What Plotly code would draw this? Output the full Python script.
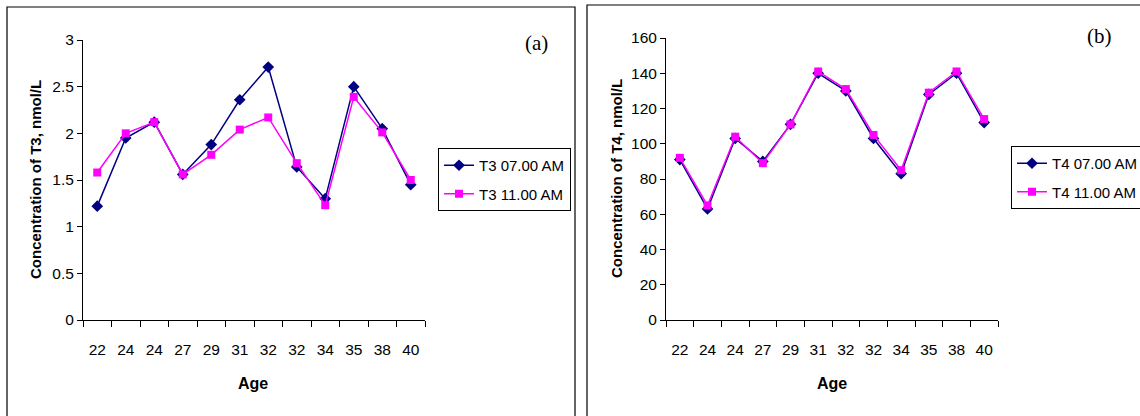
import plotly.graph_objects as go

ages = ["22", "24", "24", "27", "29", "31", "32", "32", "34", "35", "38", "40"]
t3_07 = [1.22, 1.95, 2.12, 1.56, 1.88, 2.36, 2.71, 1.64, 1.30, 2.50, 2.05, 1.45]
t3_11 = [1.58, 2.00, 2.12, 1.56, 1.77, 2.04, 2.17, 1.68, 1.23, 2.39, 2.01, 1.50]
t4_07 = [91, 63, 103, 90, 111, 140, 130, 103, 83, 128, 140, 112]
t4_11 = [92, 65, 104, 89, 111, 141, 131, 105, 85, 129, 141, 114]
y3_ticks = [0, 0.5, 1, 1.5, 2, 2.5, 3]
y3_labels = ["0", "0.5", "1", "1.5", "2", "2.5", "3"]
y4_ticks = [0, 20, 40, 60, 80, 100, 120, 140, 160]

W, H = 1140, 416
pos = list(range(len(ages)))
NAVY = "#000080"
MAG = "#FF00FF"
SANS = "Liberation Sans, Arial"
SERIF = "Liberation Serif, Times New Roman"

fig = go.Figure()

def add_pair(xa, ya, legend, v07, v11, name07, name11):
    fig.add_trace(go.Scatter(x=pos, y=v07, name=name07, xaxis=xa, yaxis=ya, legend=legend,
                             legendgroup=name07, mode="lines+markers",
                             line=dict(color=NAVY, width=1.5),
                             marker=dict(symbol="diamond", size=9, color=NAVY)))
    fig.add_trace(go.Scatter(x=pos, y=v11, name=name11, xaxis=xa, yaxis=ya, legend=legend,
                             legendgroup=name11, mode="lines+markers",
                             line=dict(color=MAG, width=1.5),
                             marker=dict(symbol="square", size=8, color=MAG)))

add_pair("x", "y", "legend", t3_07, t3_11, "T3 07.00 AM", "T3 11.00 AM")
add_pair("x2", "y2", "legend2", t4_07, t4_11, "T4 07.00 AM", "T4 11.00 AM")

def xaxis(domain, anchor):
    return dict(domain=domain, anchor=anchor, range=[-0.5, len(ages) - 0.5],
                tickmode="array", tickvals=pos, ticktext=ages, ticks="",
                ticklabelstandoff=15, automargin=False,
                minor=dict(tick0=-0.5, dtick=1, ticks="outside", ticklen=6,
                           tickcolor="black", tickwidth=1, showgrid=False),
                showline=True, linecolor="black", linewidth=1, showgrid=False,
                zeroline=False, tickfont=dict(family=SANS, size=15.5, color="black"),
                fixedrange=True)

def yaxis(domain, anchor, rng, tv, tt):
    return dict(domain=domain, anchor=anchor, range=rng, tickmode="array",
                tickvals=tv, ticktext=tt, ticks="outside", ticklen=5, automargin=False,
                tickcolor="black", showline=True, linecolor="black", linewidth=1,
                showgrid=False, zeroline=False, fixedrange=True,
                tickfont=dict(family=SANS, size=15.5, color="black"))

fig.update_layout(
    width=W, height=H, margin=dict(l=0, r=0, t=0, b=0, autoexpand=False),
    paper_bgcolor="white", plot_bgcolor="white",
    xaxis=xaxis([83 / W, 425 / W], "y"),
    yaxis=yaxis([1 - 320 / H, 1 - 40 / H], "x", [0, 3], y3_ticks, y3_labels),
    xaxis2=xaxis([666 / W, 998 / W], "y2"),
    yaxis2=yaxis([1 - 320 / H, 1 - 38 / H], "x2", [0, 160], y4_ticks, [str(v) for v in y4_ticks]),
    legend=dict(x=438 / W, y=1 - 148 / H, xanchor="left", yanchor="top",
                bordercolor="black", borderwidth=1, bgcolor="white",
                font=dict(family=SANS, size=15, color="black"),
                tracegroupgap=6, traceorder="grouped"),
    legend2=dict(x=1011 / W, y=1 - 146 / H, xanchor="left", yanchor="top",
                 bordercolor="black", borderwidth=1, bgcolor="white",
                 font=dict(family=SANS, size=15, color="black"),
                 tracegroupgap=6, traceorder="grouped"),
    showlegend=True,
    hovermode=False,
)

# panel frames
fig.add_shape(type="rect", xref="paper", yref="paper", x0=7 / W, x1=575 / W,
              y0=-0.05, y1=1 - 7 / H, line=dict(color="black", width=1.2))
fig.add_shape(type="rect", xref="paper", yref="paper", x0=587 / W, x1=1.05,
              y0=-0.05, y1=1 - 5 / H, line=dict(color="black", width=1.2))

ann = [
    dict(text="(a)", x=536 / W, y=1 - 43 / H, font=dict(family=SERIF, size=21)),
    dict(text="(b)", x=1099 / W, y=1 - 36 / H, font=dict(family=SERIF, size=21)),
    dict(text="<b>Concentration of T3, nmol/L</b>", x=35 / W, y=1 - 180 / H, textangle=-90,
         font=dict(family=SANS, size=15)),
    dict(text="<b>Concentration of T4, nmol/L</b>", x=616 / W, y=1 - 179 / H, textangle=-90,
         font=dict(family=SANS, size=15)),
    dict(text="<b>Age</b>", x=253 / W, y=1 - 383 / H, font=dict(family=SANS, size=16)),
    dict(text="<b>Age</b>", x=832 / W, y=1 - 383 / H, font=dict(family=SANS, size=16)),
]
for a in ann:
    a.update(xref="paper", yref="paper", showarrow=False, xanchor="center", yanchor="middle")
    a["font"]["color"] = "black"
    fig.add_annotation(**a)

post = (
    "document.documentElement.style.margin='0';"
    "document.documentElement.style.overflow='hidden';"
    "document.body.style.margin='0';document.body.style.overflow='hidden';"
    "var d=document.getElementsByClassName('plotly-graph-div')[0];"
    "d.style.position='fixed';d.style.top='0px';d.style.left='0px';"
)
fig.write_html("out.html", config={"displayModeBar": False}, post_script=post)
